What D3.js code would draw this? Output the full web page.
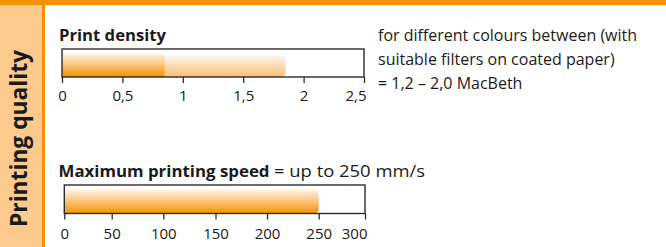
<!DOCTYPE html>
<html>
<head>
<meta charset="utf-8">
<script src="https://cdn.jsdelivr.net/npm/d3@7"></script>
<style>
  html, body { margin: 0; padding: 0; background: #fff; }
  svg { display: block; font-family: "Open Sans", "Noto Sans", sans-serif; }
</style>
</head>
<body>
<svg id="chart" width="666" height="247"></svg>
<script>
// ---- Data ----
const sideTitle = "Printing quality";

const densityTitle = "Print density";
const densityTicks = [0, 0.5, 1, 1.5, 2, 2.5];
const densityDomain = [0, 2.5];
const densityValues = [0.85, 1.85];   // solid part, light (range) part
const densityNote = ["for different colours between (with", "suitable filters on coated paper)", "= 1,2 \u2013 2,0 MacBeth"];

const speedTitle = "Maximum printing speed";
const speedNote = "= up to 250 mm/s";
const speedTicks = [0, 50, 100, 150, 200, 250, 300];
const speedDomain = [0, 300];
const speedValues = [250];

// ---- Drawing ----
const svg = d3.select("#chart");
const W = 666, H = 247;
const orange = "#f39200";
const ink = "#1a1a1a";
const fmt = d => String(d).replace(".", ",");

const defs = svg.append("defs");
function grad(id, top, bottom) {
  const g = defs.append("linearGradient").attr("id", id)
    .attr("x1", 0).attr("y1", 0).attr("x2", 0).attr("y2", 1);
  g.append("stop").attr("offset", "0%").attr("stop-color", top);
  g.append("stop").attr("offset", "100%").attr("stop-color", bottom);
}
grad("gDark", "#fff6ee", orange);
grad("gLight", "#fff8f1", "#f8bf78");

// frame
svg.append("rect").attr("x", 0).attr("y", 0).attr("width", W).attr("height", 5).attr("fill", orange);
svg.append("rect").attr("x", 0).attr("y", 5).attr("width", 43).attr("height", H - 5).attr("fill", "#fbca8c");
svg.append("rect").attr("x", 42).attr("y", 5).attr("width", 3).attr("height", H - 5).attr("fill", orange);
svg.append("text")
  .attr("transform", "translate(27,138.5) rotate(-90)")
  .attr("text-anchor", "middle")
  .attr("font-size", 24).attr("font-weight", 700).attr("fill", ink)
  .attr("textLength", 177).attr("lengthAdjust", "spacingAndGlyphs")
  .text(sideTitle);

function roundedRight(x0, x1, y0, y1, r) {
  return `M${x0},${y0} H${x1 - r} Q${x1},${y0} ${x1},${y0 + r} V${y1 - r} Q${x1},${y1} ${x1 - r},${y1} H${x0} Z`;
}

function axisBlock(opts) {
  const x = opts.scale;
  const g = svg.append("g");
  const top = opts.y0, bot = opts.y1;
  opts.bars(g, x, top, bot);
  const d0 = x.domain()[0], d1 = x.domain()[x.domain().length - 1];
  g.append("rect").attr("x", x(d0)).attr("y", top)
    .attr("width", x(d1) - x(d0)).attr("height", bot - top)
    .attr("fill", "none").attr("stroke", "#2b2b2b").attr("stroke-width", 1.4);
  const ax = d3.axisBottom(x).tickValues(opts.ticks).tickSize(6).tickPadding(opts.pad).tickFormat(fmt);
  const ag = g.append("g").attr("transform", `translate(0,${bot})`).call(ax);
  ag.select(".domain").remove();
  ag.selectAll(".tick line").attr("stroke", "#2b2b2b").attr("stroke-width", 1.3);
  ag.selectAll(".tick text").attr("font-size", 15).attr("fill", ink)
    .attr("font-family", "Open Sans, sans-serif");
  ag.selectAll(".tick text").filter((d, i, n) => i === n.length - 1)
    .attr("text-anchor", "end").attr("dx", 2);
  return x;
}

// Print density
svg.append("text").attr("x", 59).attr("y", 40.7)
  .attr("font-size", 16).attr("font-weight", 700).attr("fill", ink)
  .attr("textLength", 107).attr("lengthAdjust", "spacingAndGlyphs")
  .text(densityTitle);
axisBlock({
  scale: d3.scaleLinear().domain(densityDomain).range([62, 364]),
  y0: 49, y1: 77, ticks: densityTicks, pad: 7,
  bars: (g, x, top, bot) => {
    g.append("path")
      .attr("d", roundedRight(x(0), x(densityValues[1]), top + 6, bot, 5))
      .attr("fill", "url(#gLight)");
    g.append("rect").attr("x", x(0)).attr("y", top + 4)
      .attr("width", x(densityValues[0]) - x(0)).attr("height", bot - top - 4)
      .attr("fill", "url(#gDark)");
  }
});
densityNote.forEach((t, i) => {
  svg.append("text").attr("x", 378).attr("y", 41 + i * 24)
    .attr("font-size", 16).attr("fill", ink).text(t);
});

// Max printing speed
svg.append("text").attr("x", 58.5).attr("y", 176.5)
  .attr("font-size", 16.8).attr("font-weight", 700).attr("fill", ink)
  .attr("textLength", 211).attr("lengthAdjust", "spacingAndGlyphs")
  .text(speedTitle);
svg.append("text").attr("x", 274).attr("y", 176.5)
  .attr("font-size", 17).attr("font-weight", 400).attr("fill", ink)
  .attr("textLength", 151).attr("lengthAdjust", "spacingAndGlyphs")
  .text(speedNote);
axisBlock({
  // the printed axis is not perfectly even; its ticks are matched piecewise
  scale: d3.scaleLinear().domain(speedTicks).range([64.3, 111.7, 163.3, 215.5, 267, 318.7, 365]),
  y0: 185, y1: 213.5, ticks: speedTicks, pad: 8.5,
  bars: (g, x, top, bot) => {
    g.append("path")
      .attr("d", roundedRight(x(0), x(speedValues[0]), top + 4, bot, 5))
      .attr("fill", "url(#gDark)");
  }
});
</script>
</body>
</html>
